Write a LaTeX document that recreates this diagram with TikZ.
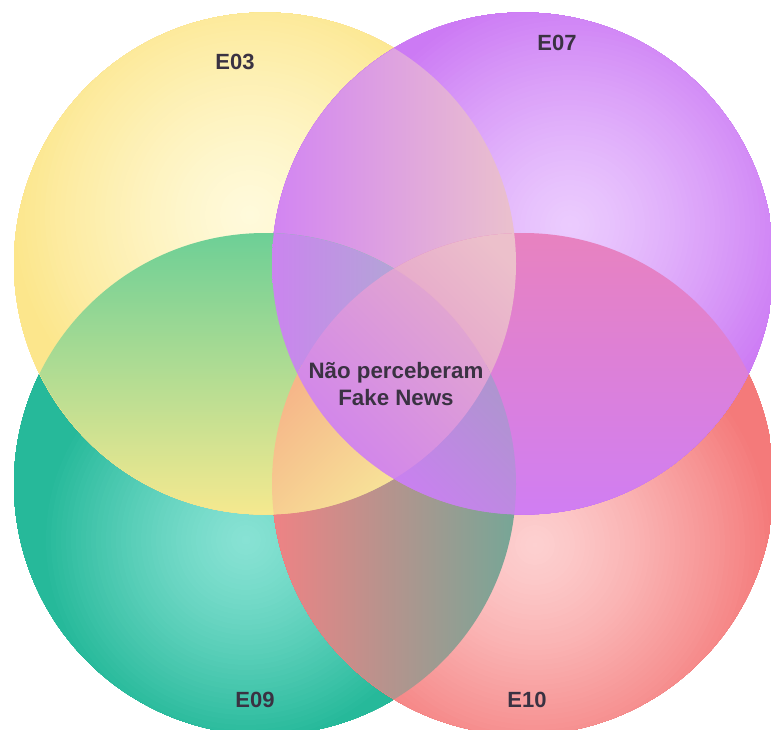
\documentclass[tikz,border=0pt]{standalone}
\usepackage{fontspec}
\setmainfont{Liberation Sans}

% base circle colours
\definecolor{ylin}{HTML}{FFFADB}
\definecolor{ylout}{HTML}{FCE68C}
\definecolor{puin}{HTML}{EBCBFE}
\definecolor{puout}{HTML}{CC7AF4}
\definecolor{grin}{HTML}{88E2D4}
\definecolor{grout}{HTML}{26B99A}
\definecolor{rdin}{HTML}{FDD0D0}
\definecolor{rdout}{HTML}{F47A7A}
\definecolor{labeltext}{HTML}{3A3242}

% overlap colours
\definecolor{ypA}{HTML}{D284F3}
\definecolor{ypB}{HTML}{E3B0DE}
\definecolor{ypC}{HTML}{EBC2CC}
\definecolor{grA}{HTML}{F08284}
\definecolor{grB}{HTML}{B1A39D}
\definecolor{grC}{HTML}{74A797}
\definecolor{ygA}{HTML}{6CCF96}
\definecolor{ygB}{HTML}{B6E5AE}
\definecolor{ygC}{HTML}{F6E98F}
\definecolor{prA}{HTML}{E882BF}
\definecolor{prB}{HTML}{E692D8}
\definecolor{prC}{HTML}{D07EF3}
\definecolor{ygpA}{HTML}{CB84EF}
\definecolor{ygpB}{HTML}{B0A8D4}
\definecolor{yprA}{HTML}{E49FCB}
\definecolor{yprB}{HTML}{ECC0CB}
\definecolor{ygrA}{HTML}{F6B689}
\definecolor{ygrB}{HTML}{F7E599}
\definecolor{gprA}{HTML}{AE95CF}
\definecolor{gprB}{HTML}{CB7FF2}
\definecolor{allA}{HTML}{E4ABCC}
\definecolor{allB}{HTML}{CF80EF}

\tikzset{
  setlabel/.style={font=\bfseries\fontsize{22}{26}\selectfont, text=labeltext, inner sep=0pt},
  centrelabel/.style={font=\bfseries\fontsize{22.3}{27}\selectfont, text=labeltext, align=center, inner sep=0pt}
}

\newcommand{\Rad}{251pt}

% radial glow: set circle #1, light spot (#2,#3), inner colour #4,
% outer colour #5, reached at distance #6 from the light spot
\newcommand{\ballfill}[6]{%
  \begin{scope}
    \clip (#1) circle[radius=\Rad];
    \fill[#5] (#1) circle[radius=\Rad];
    \foreach \d in {330,325,...,5} {
      \pgfmathsetmacro{\mixp}{100*min(1,(\d/#6)^1.3)}
      \fill[#5!\mixp!#4] (#2,#3) circle[radius=\d pt];
    }
    \fill[#4] (#2,#3) circle[radius=2.5pt];
  \end{scope}}

\begin{document}
\begin{tikzpicture}[x=1pt,y=-1pt]
  \useasboundingbox (0,0) rectangle (771,729);
  \fill[white] (0,0) rectangle (771,729);

  \coordinate (Y) at (265,263.5);
  \coordinate (P) at (523,263.5);
  \coordinate (G) at (265,484);
  \coordinate (R) at (523,484);

  % the four sets
  \ballfill{G}{246}{540}{grin}{grout}{205}
  \ballfill{R}{535}{545}{rdin}{rdout}{240}
  \ballfill{Y}{250}{215}{ylin}{ylout}{240}
  \ballfill{P}{570}{225}{puin}{puout}{235}

  % pairwise overlaps
  \begin{scope}
    \clip (Y) circle[radius=\Rad]; \clip (P) circle[radius=\Rad];
    \shade[left color=ypA, middle color=ypB, right color=ypC] (270,30) rectangle (520,495);
  \end{scope}
  \begin{scope}
    \clip (G) circle[radius=\Rad]; \clip (R) circle[radius=\Rad];
    \shade[left color=grA, middle color=grB, right color=grC] (270,255) rectangle (520,715);
  \end{scope}
  \begin{scope}
    \clip (Y) circle[radius=\Rad]; \clip (G) circle[radius=\Rad];
    \shade[top color=ygA, middle color=ygB, bottom color=ygC] (35,231) rectangle (495,516);
  \end{scope}
  \begin{scope}
    \clip (P) circle[radius=\Rad]; \clip (R) circle[radius=\Rad];
    \shade[top color=prA, middle color=prB, bottom color=prC] (293,231) rectangle (753,516);
  \end{scope}

  % triple overlaps
  \begin{scope}
    \clip (Y) circle[radius=\Rad]; \clip (G) circle[radius=\Rad]; \clip (P) circle[radius=\Rad];
    \shade[left color=ygpA, right color=ygpB] (270,228) rectangle (410,385);
  \end{scope}
  \begin{scope}
    \clip (Y) circle[radius=\Rad]; \clip (P) circle[radius=\Rad]; \clip (R) circle[radius=\Rad];
    \shade[top color=yprB, bottom color=yprA, shading angle=-45] (380,228) rectangle (520,385);
  \end{scope}
  \begin{scope}
    \clip (Y) circle[radius=\Rad]; \clip (G) circle[radius=\Rad]; \clip (R) circle[radius=\Rad];
    \shade[top color=ygrA, bottom color=ygrB, shading angle=45] (270,365) rectangle (410,520);
  \end{scope}
  \begin{scope}
    \clip (G) circle[radius=\Rad]; \clip (P) circle[radius=\Rad]; \clip (R) circle[radius=\Rad];
    \shade[top color=gprA, bottom color=gprB, shading angle=-45] (380,365) rectangle (520,520);
  \end{scope}

  % all four
  \begin{scope}
    \clip (Y) circle[radius=\Rad]; \clip (G) circle[radius=\Rad];
    \clip (P) circle[radius=\Rad]; \clip (R) circle[radius=\Rad];
    \shade[top color=allA, bottom color=allB, shading angle=-45] (285,250) rectangle (505,500);
  \end{scope}

  % labels
  \node[setlabel] (e03) at (235,62) {E03};
  \node[setlabel] (e07) at (557,43) {E07};
  \node[setlabel] (e09) at (255,700) {E09};
  \node[setlabel] (e10) at (527,700) {E10};
  \node[centrelabel] (core) at (396,384) {Não perceberam\\Fake News};
\end{tikzpicture}
\end{document}
